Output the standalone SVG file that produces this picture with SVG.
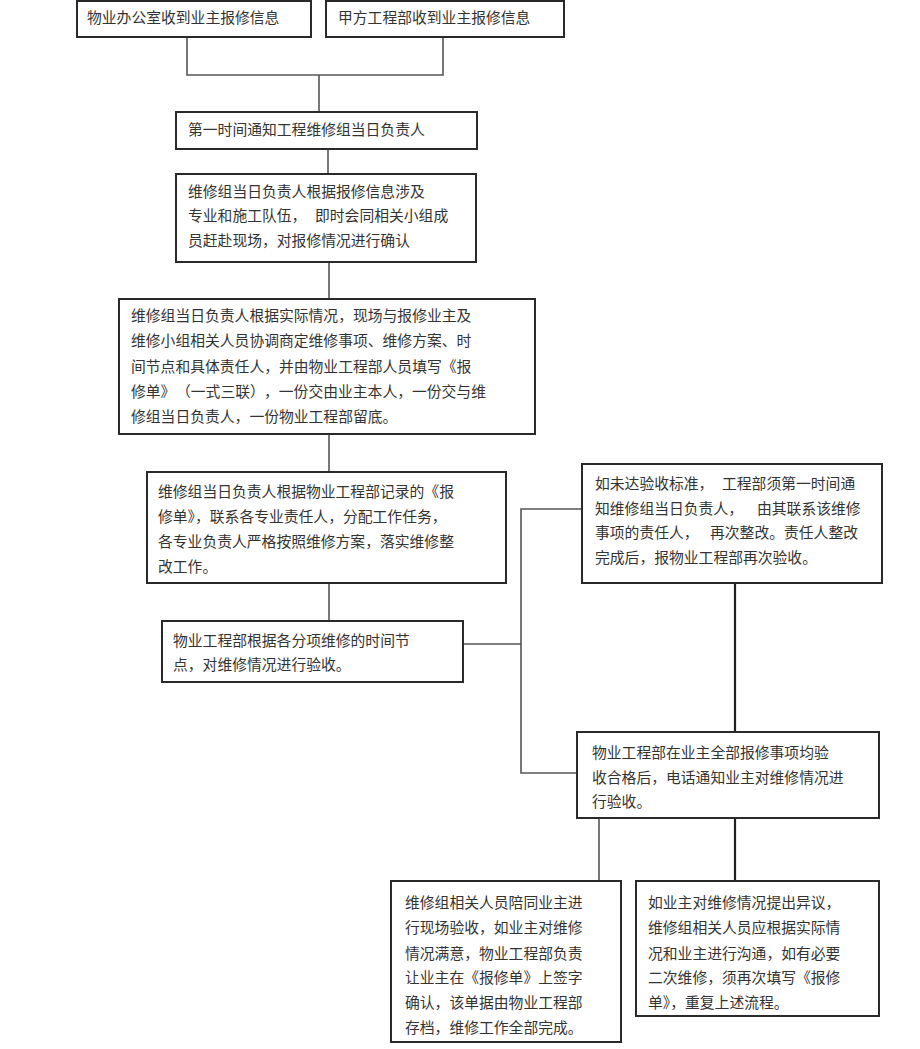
<svg xmlns="http://www.w3.org/2000/svg" width="920" height="1049" viewBox="0 0 920 1049">
<style>
.box{fill:#fff;stroke:#2a2a2a;stroke-width:2}
.t{font-family:"Noto Sans CJK SC","Noto Sans",sans-serif;font-size:14.8px;fill:#333}
.c{fill:none;stroke:#555;stroke-width:1.6}
.cd{fill:none;stroke:#222;stroke-width:2.2}
</style>
<rect width="920" height="1049" fill="#fff"/>
<g id="connectors">
<path class="c" d="M187,37 V75 H443 V37"/>
<path class="c" d="M319,75 V112"/>
<path class="c" d="M328,149 V174"/>
<path class="c" d="M329,262 V299"/>
<path class="c" d="M329,434 V472"/>
<path class="c" d="M329,583 V621"/>
<path class="c" d="M463,644 H521"/>
<path class="c" d="M582,509 H521 V773 H577"/>
<path class="cd" d="M735,583 V732"/>
<path class="c" d="M599,818 V881"/>
<path class="cd" d="M735,818 V881"/>
</g>
<g id="n1">
<rect class="box" x="77" y="1" width="234" height="36"/>
<text class="t" x="87" y="22.6">物业办公室收到业主报修信息</text>
</g>
<g id="n2">
<rect class="box" x="326" y="1" width="238" height="36"/>
<text class="t" x="338" y="22.6">甲方工程部收到业主报修信息</text>
</g>
<g id="n3">
<rect class="box" x="176" y="112" width="301" height="37"/>
<text class="t" x="188" y="134.6">第一时间通知工程维修组当日负责人</text>
</g>
<g id="n4">
<rect class="box" x="176" y="174" width="300" height="88"/>
<text class="t"><tspan x="188" y="196.6">维修组当日负责人根据报修信息涉及</tspan><tspan x="188" y="220.6">专业和施工队伍，</tspan><tspan x="315" y="220.6">即时会同相关小组成</tspan><tspan x="188" y="245.6">员赶赴现场，对报修情况进行确认</tspan></text>
</g>
<g id="n5">
<rect class="box" x="119" y="299" width="416" height="135"/>
<text class="t"><tspan x="131" y="320.6">维修组当日负责人根据实际情况，现场与报修业主及</tspan><tspan x="131" y="345.6">维修小组相关人员协调商定维修事项、维修方案、时</tspan><tspan x="131" y="371.6">间节点和具体责任人，并由物业工程部人员填写《报</tspan><tspan x="131" y="396.6">修单》</tspan><tspan x="176" y="396.6">（一式三联）</tspan><tspan x="264" y="396.6">，一份交由业主本人，一份交与维</tspan><tspan x="131" y="421.6">修组当日负责人，一份物业工程部留底。</tspan></text>
</g>
<g id="n6">
<rect class="box" x="147" y="472" width="359" height="111"/>
<text class="t"><tspan x="158" y="496.6">维修组当日负责人根据物业工程部记录的《报</tspan><tspan x="158" y="521.6">修单》，联系各专业责任人，分配工作任务，</tspan><tspan x="158" y="546.6">各专业负责人严格按照维修方案，落实维修整</tspan><tspan x="158" y="571.6">改工作。</tspan></text>
</g>
<g id="n7">
<rect class="box" x="162" y="621" width="301" height="61"/>
<text class="t"><tspan x="173" y="645.6">物业工程部根据各分项维修的时间节</tspan><tspan x="173" y="669.6">点，对维修情况进行验收。</tspan></text>
</g>
<g id="n8">
<rect class="box" x="582" y="464" width="300" height="119"/>
<text class="t"><tspan x="595" y="488.6">如未达验收标准，</tspan><tspan x="722" y="488.6">工程部须第一时间通</tspan><tspan x="595" y="513.6">知维修组当日负责人，</tspan><tspan x="757" y="513.6">由其联系该维修</tspan><tspan x="595" y="537.6">事项的责任人，</tspan><tspan x="710" y="537.6">再次整改。责任人整改</tspan><tspan x="595" y="562.6">完成后，报物业工程部再次验收。</tspan></text>
</g>
<g id="n9">
<rect class="box" x="577" y="732" width="302" height="86"/>
<text class="t"><tspan x="592" y="757.6">物业工程部在业主全部报修事项均验</tspan><tspan x="592" y="782.6">收合格后，电话通知业主对维修情况进</tspan><tspan x="592" y="806.6">行验收。</tspan></text>
</g>
<g id="n10">
<rect class="box" x="391" y="881" width="230" height="161"/>
<text class="t"><tspan x="405" y="907.6">维修组相关人员陪同业主进</tspan><tspan x="405" y="932.6">行现场验收，如业主对维修</tspan><tspan x="405" y="958.6">情况满意，物业工程部负责</tspan><tspan x="405" y="982.6">让业主在《报修单》上签字</tspan><tspan x="405" y="1007.6">确认，该单据由物业工程部</tspan><tspan x="405" y="1032.6">存档，维修工作全部完成。</tspan></text>
</g>
<g id="n11">
<rect class="box" x="636" y="881" width="243" height="135"/>
<text class="t"><tspan x="648" y="907.6">如业主对维修情况提出异议，</tspan><tspan x="648" y="932.6">维修组相关人员应根据实际情</tspan><tspan x="648" y="958.6">况和业主进行沟通，如有必要</tspan><tspan x="648" y="982.6">二次维修，须再次填写《报修</tspan><tspan x="648" y="1007.6">单》，重复上述流程。</tspan></text>
</g>
</svg>
